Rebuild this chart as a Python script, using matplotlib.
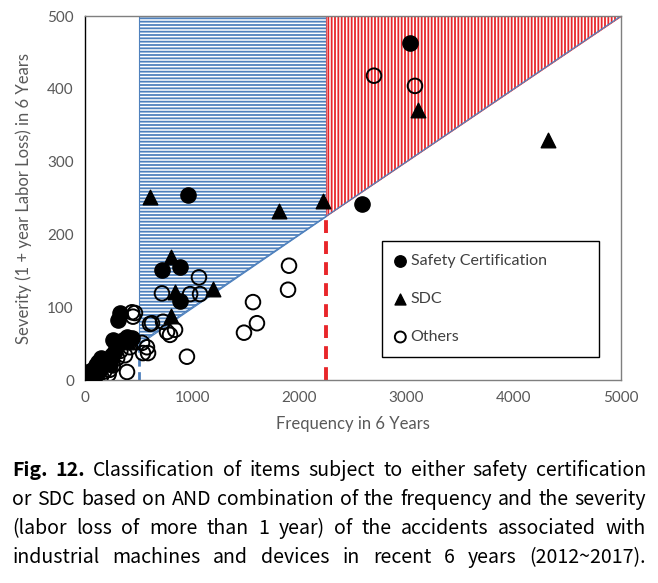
import matplotlib
matplotlib.use("Agg")
import matplotlib.pyplot as plt

# ============================================
# Data (frequency, severity)
# ============================================
safety_x = [3030, 960, 2585, 718, 886, 886, 326, 308, 355, 392, 438, 300, 250, 200,
            150, 120, 100, 80, 60, 40, 30, 20, 10, 0, 170, 230, 280, 50, 90, 130, 261]
safety_y = [463, 254, 242, 151, 155, 108, 92, 82, 55, 59, 58, 48, 35, 28,
            30, 25, 20, 15, 10, 8, 5, 3, 2, 0, 20, 22, 40, 12, 5, 12, 55]

sdc_x = [3106, 4319, 606, 1810, 2220, 802, 840, 1194, 802, 400, 250, 50]
sdc_y = [371, 330, 251, 232, 246, 169, 121, 125, 88, 52, 35, 8]

others_x = [2696, 3078, 1903, 1894, 1567, 1604, 1483, 951, 1063, 1073, 981, 718,
            606, 625, 728, 765, 840, 793, 466, 438, 448, 532, 578, 588, 541, 373,
            392, 180, 220, 260, 300, 330, 420, 150, 230]
others_y = [418, 404, 157, 124, 107, 78, 65, 32, 141, 118, 118, 119,
            77, 78, 80, 66, 69, 62, 92, 93, 87, 51, 45, 37, 37, 34,
            11, 12, 8, 20, 30, 40, 45, 5, 14]

# classification thresholds
freq_low = 500
freq_high = 2250
ratio = 0.1  # severity / frequency boundary line
x_max, y_max = 5000, 500

caption_lines = [
    "Fig. 12. Classification of items subject to either safety certification",
    "or SDC based on AND combination of the frequency and the severity",
    "(labor loss of more than 1 year) of the accidents associated with",
    "industrial machines and devices in recent 6 years (2012~2017).",
]

plt.rcParams['hatch.linewidth'] = 1.3
plt.rcParams['font.family'] = ['Lato', 'DejaVu Sans']

W, H = 658, 583
fig = plt.figure(figsize=(W / 100, H / 100), dpi=100)
ax = fig.add_axes([85 / W, (H - 380) / H, (621 - 85) / W, (380 - 16) / H])

blue = '#4f81bd'
red = '#e8262a'

# Blue region: medium frequency, above the line
ax.fill([freq_low, freq_low, freq_high, freq_high],
        [freq_low * ratio, y_max, y_max, freq_high * ratio],
        facecolor='white', edgecolor=blue, hatch='-----', linewidth=0.8, zorder=1)
# Red region: high frequency, above the line
ax.fill([freq_high, freq_high, x_max],
        [freq_high * ratio, y_max, x_max * ratio],
        facecolor='white', edgecolor=red, hatch='|||||', linewidth=0.5, zorder=1)
ax.plot([freq_low, x_max], [freq_low * ratio, x_max * ratio], color=blue, lw=0.9, zorder=2)

# Dashed threshold markers
ax.plot([freq_low, freq_low], [0, freq_low * ratio], color=blue, lw=2,
        dashes=(3, 2), zorder=2)
ax.plot([freq_high, freq_high], [0, freq_high * ratio], color=red, lw=2.8,
        dashes=(3.3, 2.1), zorder=2)

# Points
ax.scatter(others_x, others_y, s=110, facecolors='none', edgecolors='black',
           linewidths=1.4, marker='o', zorder=3, label='Others')
ax.scatter(safety_x, safety_y, s=120, color='black', marker='o', zorder=4,
           label='Safety Certification')
ax.scatter(sdc_x, sdc_y, s=110, color='black', marker='^', zorder=4, label='SDC')

ax.set_xlim(0, x_max)
ax.set_ylim(0, y_max)
ax.set_xticks(range(0, 5001, 1000))
ax.set_yticks(range(0, 501, 100))
ax.tick_params(length=0, labelsize=11, colors='#595959', pad=8)
for side in ['top', 'right', 'bottom']:
    ax.spines[side].set_color('#7f7f7f')
ax.spines['left'].set_color('black')
for sp in ax.spines.values():
    sp.set_linewidth(1.0)

ax.set_xlabel("Frequency in 6 Years", fontsize=12, color='#595959', labelpad=8)
ax.set_ylabel("Severity (1 + year Labor Loss) in 6 Years", fontsize=12,
              color='#595959', labelpad=11)

handles, labels = ax.get_legend_handles_labels()
order = [1, 2, 0]
leg = ax.legend([handles[i] for i in order], [labels[i] for i in order],
                loc='upper left', bbox_to_anchor=(0.554, 0.06, 0.405, 0.322),
                mode='expand', borderaxespad=0, fancybox=False, framealpha=1,
                edgecolor='black', fontsize=11.5, labelspacing=1.5, borderpad=0.8,
                handlelength=0.7, handletextpad=0.3, markerscale=0.75)
leg.get_frame().set_linewidth(1.0)
for t in leg.get_texts():
    t.set_color('#404040')

# ============================================
# Justified caption under the chart
# ============================================
cap_font = ['Noto Sans CJK KR', 'DejaVu Sans']
cap_left, cap_right = 12, 646
cap_baseline = [476, 505, 534, 563]
renderer = fig.canvas.get_renderer()

caption_texts = []
for line, yp in zip(caption_lines, cap_baseline):
    words = line.split()
    texts = []
    for k, w in enumerate(words):
        bold = line.startswith('Fig.') and k < 2
        t = fig.text(0, 1 - yp / H, w, fontsize=10, family=cap_font,
                     weight='bold' if bold else 'normal', va='baseline', ha='left',
                     color='black')
        texts.append(t)
    caption_texts.append(texts)

# pick one font size so that the widest line still fits with normal spaces
space10 = 0.3 * 10 * 100 / 72
fits = []
for texts in caption_texts:
    natural = sum(t.get_window_extent(renderer).width for t in texts)
    natural += space10 * (len(texts) - 1)
    fits.append(10 * (cap_right - cap_left) / natural)
cap_size = min(min(fits), 15)

for texts in caption_texts:
    for t in texts:
        t.set_fontsize(cap_size)
    widths = [t.get_window_extent(renderer).width for t in texts]
    gap = (cap_right - cap_left - sum(widths)) / (len(texts) - 1)
    x = cap_left
    for t, wd in zip(texts, widths):
        t.set_x(x / W)
        x += wd + gap

fig.savefig("out.png", dpi=100)
